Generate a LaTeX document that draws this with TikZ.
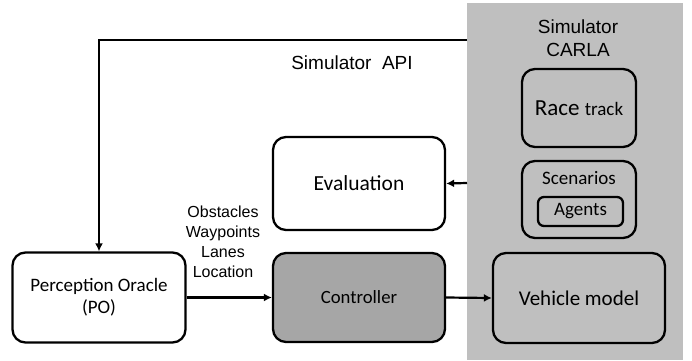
\documentclass[tikz,border=0pt]{standalone}
\usepackage{fontspec}
\setmainfont{Carlito}
\newfontfamily\arialfont{Liberation Sans}
\usepackage{xcolor}
\usetikzlibrary{arrows.meta}
\definecolor{simgray}{RGB}{191,191,191}
\definecolor{ctrlgray}{RGB}{166,166,166}

\begin{document}
\begin{tikzpicture}[x=1pt, y=-1pt,
    block/.style={draw, line width=2.3pt, rounded corners=13pt, align=center, font=\fontsize{19}{22}\selectfont},
    link/.style={line width=2.2pt, -{Latex[length=8pt,width=8pt]}}]
    \useasboundingbox (0,0) rectangle (692,360);
    \fill[simgray] (467,3) rectangle (683,360);
    \node[align=center, font=\arialfont\fontsize{19}{23}\selectfont] (carla) at (578,38) {Simulator\\CARLA};
    \node[block, minimum width=114pt, minimum height=78pt, font=\fontsize{23}{26}\selectfont] (track) at (579,108) {Race {\fontsize{19}{22}\selectfont track}};
    \node[block, minimum width=114pt, minimum height=77pt] (scen) at (579,199.5) {};
    \node[font=\fontsize{19}{22}\selectfont] (scentext) at (579,178) {Scenarios};
    \node[block, rounded corners=6pt, minimum width=85pt, minimum height=29pt, font=\fontsize{19}{22}\selectfont] (agents) at (580.5,211.5) {Agents};
    \node[block, minimum width=172pt, minimum height=90pt, font=\fontsize{21}{24}\selectfont] (vehicle) at (579,298) {Vehicle model};
    \node[block, fill=white, minimum width=172pt, minimum height=93pt, font=\fontsize{21.5}{24}\selectfont] (eval) at (359,183.5) {Evaluation};
    \node[block, fill=ctrlgray, minimum width=172pt, minimum height=89pt, font=\fontsize{18.7}{22}\selectfont] (ctrl) at (359,297.5) {Controller};
    \node[block, fill=white, minimum width=173pt, minimum height=90pt] (po) at (99,297.5) {Perception Oracle\\(PO)};
    \node[font=\arialfont\fontsize{19}{22}\selectfont] (api) at (352,63) {Simulator~~API};
    \node[align=center, font=\arialfont\fontsize{16}{20}\selectfont] (info) at (223,242) {Obstacles\\Waypoints\\Lanes\\Location};
    \coordinate (apiout) at (467,40);
    \coordinate (evalout) at (467,183);
    \draw[link] (apiout) -| (po.north);
    \draw[link] (evalout) -- (eval.east);
    \draw[link] (po.east) -- (ctrl.west);
    \draw[link] (ctrl.east) -- (vehicle.west);
\end{tikzpicture}
\end{document}
